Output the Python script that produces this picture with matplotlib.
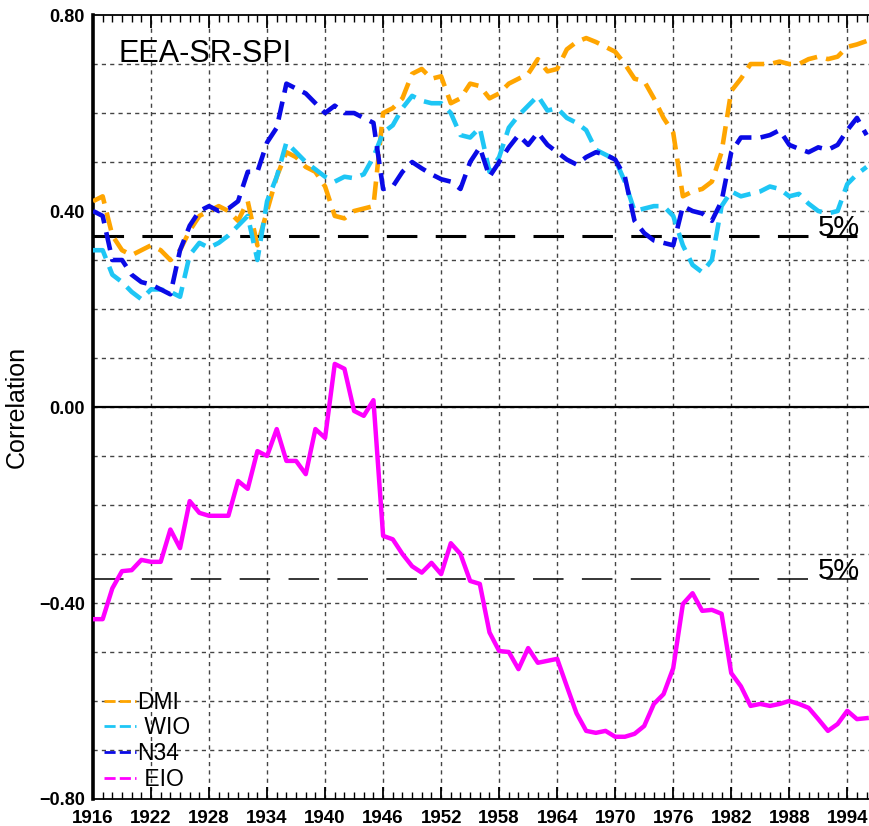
import numpy as np
import matplotlib
matplotlib.use("Agg")
import matplotlib.pyplot as plt
from matplotlib.lines import Line2D
from matplotlib.ticker import MultipleLocator

plt.rcParams['font.family'] = ['Liberation Sans', 'DejaVu Sans']

years = np.arange(1916, 1997)

dmi = [0.42, 0.43, 0.35, 0.32, 0.31, 0.32, 0.33, 0.32, 0.30, 0.32,
       0.36, 0.39, 0.40, 0.41, 0.40, 0.38, 0.42, 0.33, 0.40, 0.47,
       0.52, 0.51, 0.49, 0.48, 0.45, 0.39, 0.385, 0.40, 0.405, 0.41,
       0.60, 0.61, 0.63, 0.68, 0.69, 0.67, 0.675, 0.62, 0.63, 0.66,
       0.655, 0.63, 0.64, 0.66, 0.67, 0.68, 0.71, 0.685, 0.69, 0.73,
       0.745, 0.753, 0.745, 0.735, 0.725, 0.70, 0.67, 0.665, 0.63, 0.59,
       0.56, 0.43, 0.44, 0.445, 0.46, 0.52, 0.645, 0.67, 0.70, 0.70,
       0.70, 0.705, 0.70, 0.70, 0.71, 0.715, 0.71, 0.715, 0.735, 0.74,
       0.747]

wio = [0.32, 0.32, 0.27, 0.255, 0.235, 0.22, 0.24, 0.24, 0.235, 0.225,
       0.31, 0.335, 0.325, 0.335, 0.35, 0.37, 0.39, 0.30, 0.42, 0.47,
       0.54, 0.52, 0.50, 0.485, 0.47, 0.46, 0.47, 0.467, 0.475, 0.51,
       0.56, 0.575, 0.61, 0.635, 0.625, 0.62, 0.62, 0.60, 0.555, 0.55,
       0.57, 0.48, 0.51, 0.57, 0.595, 0.615, 0.635, 0.605, 0.61, 0.59,
       0.58, 0.565, 0.525, 0.515, 0.505, 0.46, 0.40, 0.405, 0.41, 0.41,
       0.39, 0.33, 0.29, 0.275, 0.30, 0.41, 0.44, 0.43, 0.435, 0.44,
       0.45, 0.445, 0.43, 0.435, 0.415, 0.40, 0.395, 0.40, 0.455, 0.475,
       0.49]

n34 = [0.40, 0.39, 0.30, 0.30, 0.27, 0.255, 0.25, 0.24, 0.23, 0.32,
       0.37, 0.40, 0.41, 0.40, 0.405, 0.42, 0.48, 0.48, 0.54, 0.57,
       0.66, 0.65, 0.64, 0.62, 0.60, 0.615, 0.60, 0.60, 0.59, 0.58,
       0.445, 0.45, 0.48, 0.50, 0.487, 0.475, 0.465, 0.46, 0.445, 0.50,
       0.53, 0.47, 0.50, 0.53, 0.555, 0.535, 0.56, 0.535, 0.52, 0.505,
       0.495, 0.51, 0.52, 0.515, 0.505, 0.47, 0.38, 0.355, 0.34, 0.335,
       0.33, 0.41, 0.40, 0.395, 0.38, 0.42, 0.52, 0.55, 0.55, 0.55,
       0.555, 0.565, 0.535, 0.527, 0.52, 0.53, 0.525, 0.535, 0.565, 0.59,
       0.555]

eio = [-0.433, -0.433, -0.37, -0.335, -0.333, -0.312, -0.316, -0.316, -0.25, -0.288,
       -0.192, -0.216, -0.222, -0.222, -0.222, -0.151, -0.167, -0.09, -0.10, -0.045,
       -0.11, -0.11, -0.137, -0.045, -0.063, 0.088, 0.078, -0.008, -0.018, 0.014,
       -0.263, -0.27, -0.30, -0.325, -0.338, -0.318, -0.341, -0.278, -0.30, -0.355,
       -0.361, -0.46, -0.498, -0.50, -0.535, -0.492, -0.522, -0.518, -0.514, -0.57,
       -0.625, -0.661, -0.665, -0.661, -0.673, -0.673, -0.667, -0.651, -0.606, -0.586,
       -0.533, -0.402, -0.38, -0.416, -0.414, -0.422, -0.543, -0.57, -0.61, -0.606,
       -0.61, -0.606, -0.60, -0.606, -0.614, -0.637, -0.661, -0.647, -0.62, -0.637,
       -0.635]

sig5 = 0.35
labels = ["DMI", " WIO", "N34", " EIO"]
colors = ["#ffa500", "#1ec6f5", "#0a0ae6", "#ff00ff"]
yticks = [-0.8, -0.4, 0.0, 0.4, 0.8]
xticks = np.arange(1916, 1997, 6)

fig = plt.figure(figsize=(8.7, 8.26), dpi=100)
ax = fig.add_axes([0.1069, 0.0327, 0.8931, 0.9491])

# grid
for yv in np.arange(-0.7, 0.8, 0.1):
    ax.axhline(yv, color="#444444", lw=1.0, ls=(0, (3, 3)), zorder=1)
for xv in xticks[1:]:
    ax.axvline(xv, color="#444444", lw=1.0, ls=(0, (3, 3)), zorder=1)
ax.axhline(0, color="black", lw=1.6, zorder=2)

# 5% significance levels
ax.axhline(sig5, color="black", lw=2.2, ls=(0, (10, 6)), zorder=2)
ax.axhline(-sig5, color="black", lw=1.1, ls=(0, (20, 12)), zorder=2)
ax.text(1991.0, sig5, "5%", fontsize=21, va="baseline", ha="left")
ax.text(1991.0, -sig5, "5%", fontsize=21, va="baseline", ha="left")

for s, c in zip([dmi, wio, n34], colors[:3]):
    ax.plot(years, s, color=c, lw=3.3, dashes=(4.0, 2.0), zorder=3)
ax.plot(years, eio, color=colors[3], lw=3.2, zorder=3)

ax.text(1918.6, 0.72, "EEA-SR-SPI", fontsize=22, va="center", ha="left")

handles = [Line2D([], [], color=c, lw=2, dashes=(4, 1.5)) for c in colors]
ax.legend(handles, labels, loc="lower left", bbox_to_anchor=(-0.006, -0.01),
          frameon=False, fontsize=16.5, handlelength=1.4, handletextpad=0.05,
          labelspacing=0.12, borderpad=0.2)

ax.set_xlim(1916, 1996.35)
ax.set_ylim(-0.8, 0.8)
ax.set_xticks(xticks)
ax.set_xticklabels([str(x) for x in xticks], fontsize=13.5, fontweight="bold")
ax.xaxis.set_minor_locator(MultipleLocator(1))
ax.set_yticks(yticks)
ax.set_yticklabels(["\u22120.80", "\u22120.40", "0.00", "0.40", "0.80"],
                   fontsize=13, fontweight="bold")
ax.tick_params(axis="x", which="major", direction="in", length=9, width=1.3,
               top=True, pad=8)
ax.tick_params(axis="x", which="minor", direction="in", length=5, width=1.0,
               top=True)
ax.tick_params(axis="y", length=0, pad=6)
ax.set_ylabel("Correlation", fontsize=18)
ax.yaxis.set_label_coords(-0.083, 0.5)

ax.spines["right"].set_visible(False)
ax.spines["left"].set_linewidth(2.6)
ax.spines["top"].set_linewidth(1.3)
ax.spines["bottom"].set_linewidth(1.3)

fig.savefig("out.png", dpi=100)
